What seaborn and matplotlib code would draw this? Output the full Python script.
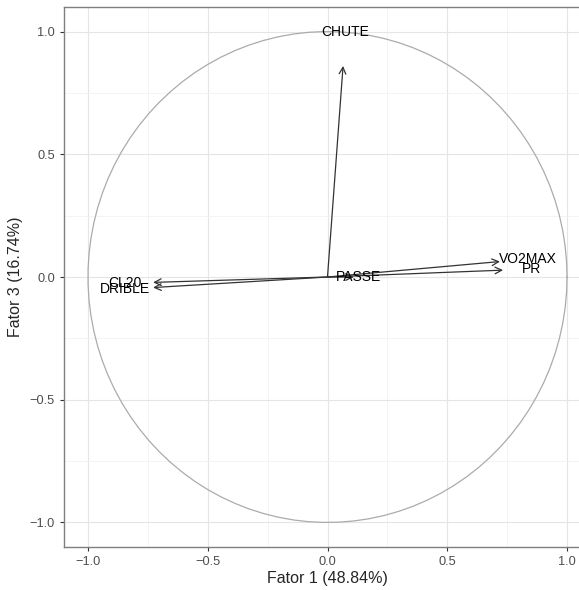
import matplotlib
matplotlib.use("Agg")
import matplotlib.pyplot as plt
import seaborn as sns
import pandas as pd
import numpy as np

# loadings on factor 1 and factor 3
variables = ["CHUTE", "VO2MAX", "PR", "CL20", "DRIBLE", "PASSE"]
fator1 = [0.065, 0.72, 0.733, -0.728, -0.728, 0.11]
fator3 = [0.86, 0.063, 0.028, -0.022, -0.043, 0.0]
label_scale = 1.16

sns.set_theme(style="whitegrid")
plt.rcParams["font.family"] = ["Liberation Sans", "DejaVu Sans"]

df = pd.DataFrame({"var": variables, "f1": fator1, "f3": fator3})

fig = plt.figure(figsize=(5.79, 5.9), dpi=100)
ax = fig.add_axes([64 / 579, 1 - 547 / 590, (591 - 64) / 579, (547 - 7) / 590])

# correlation circle
t = np.linspace(0, 2 * np.pi, 100)
circle = pd.DataFrame({"x": np.cos(t), "y": np.sin(t)})
sns.lineplot(data=circle, x="x", y="y", sort=False, estimator=None,
             color="#ababab", lw=0.9, ax=ax)

for _, r in df.iterrows():
    ax.annotate("", xy=(r.f1, r.f3), xytext=(0, 0),
                arrowprops=dict(arrowstyle="->", color="#333333", lw=0.9,
                                mutation_scale=12, shrinkA=0, shrinkB=0))
    ax.text(r.f1 * label_scale, r.f3 * label_scale, r["var"], ha="center",
            va="center", fontsize=10, color="black")

ax.set_xlim(-1.1, 1.1)
ax.set_ylim(-1.1, 1.1)
ax.set_xticks([-1.0, -0.5, 0.0, 0.5, 1.0])
ax.set_yticks([-1.0, -0.5, 0.0, 0.5, 1.0])
ax.set_xticks([-0.75, -0.25, 0.25, 0.75], minor=True)
ax.set_yticks([-0.75, -0.25, 0.25, 0.75], minor=True)
ax.grid(which="major", color="#e5e5e5", lw=0.8)
ax.grid(which="minor", color="#f2f2f2", lw=0.6)
ax.set_facecolor("white")
for s in ax.spines.values():
    s.set_color("#7f7f7f")
    s.set_linewidth(1.0)
ax.tick_params(axis="both", which="major", labelsize=9.2, labelcolor="#4d4d4d",
               length=3, width=0.8, color="#333333", direction="out",
               bottom=True, left=True)
ax.tick_params(which="minor", length=0)
ax.set_xticklabels(["\u22121.0", "\u22120.5", "0.0", "0.5", "1.0"])
ax.set_yticklabels(["\u22121.0", "\u22120.5", "0.0", "0.5", "1.0"])
ax.set_xlabel("Fator 1 (48.84%)", fontsize=11.5, labelpad=2)
ax.set_ylabel("Fator 3 (16.74%)", fontsize=11.5, labelpad=5)

fig.savefig("out.png", dpi=100)
